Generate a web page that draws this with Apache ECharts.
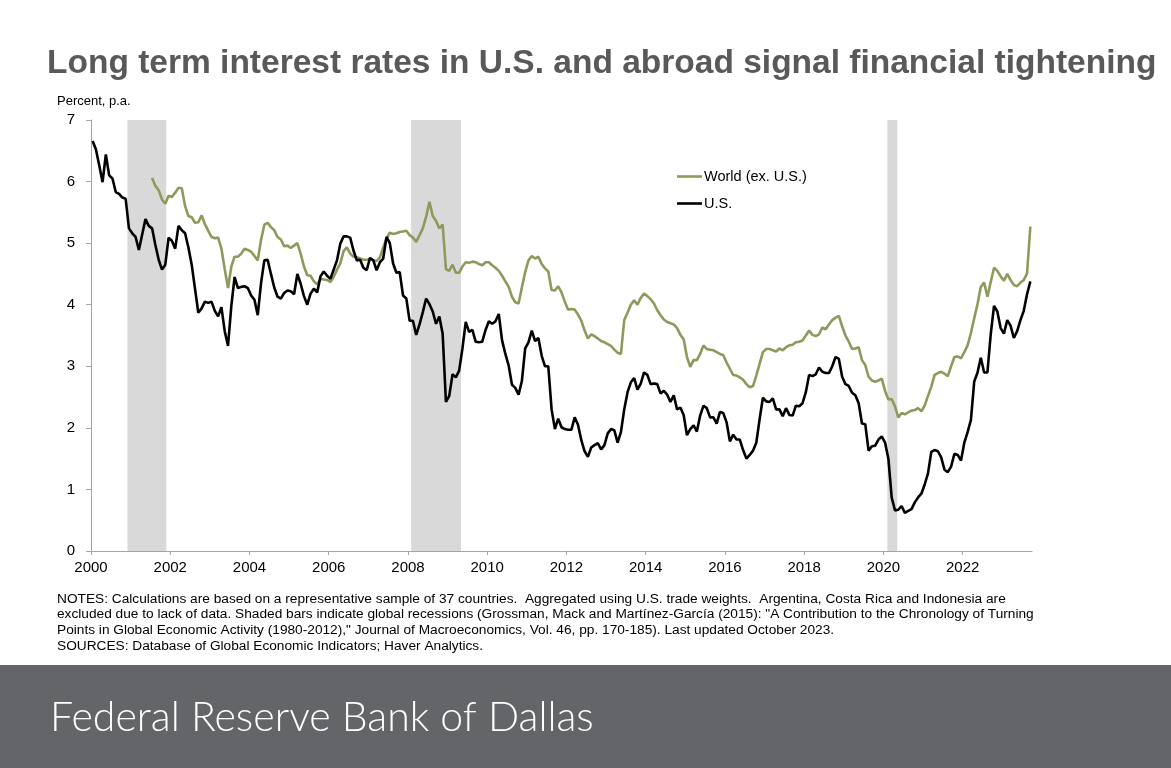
<!DOCTYPE html>
<html>
<head>
<meta charset="utf-8">
<script src="https://cdn.jsdelivr.net/npm/echarts@6/dist/echarts.min.js"></script>
<style>
  html, body { margin: 0; padding: 0; background: #fff; }
  #chart { width: 1171px; height: 768px; }
</style>
</head>
<body>
<div id="chart"></div>
<script>
// Monthly 10-year yields, U.S. from Jan 2000, World (ex. U.S.) from Jul 2001
const usStart = [2000, 0];
const usValues = [
  6.66,6.52,6.26,5.99,6.44,6.10,6.05,5.83,5.80,5.74,5.72,5.24,
  5.16,5.10,4.89,5.14,5.39,5.28,5.24,4.97,4.73,4.57,4.65,5.09,
  5.04,4.91,5.28,5.21,5.16,4.93,4.65,4.26,3.87,3.94,4.05,4.03,
  4.05,3.90,3.81,3.96,3.57,3.33,3.98,4.45,4.27,4.29,4.30,4.27,
  4.15,4.08,3.83,4.35,4.72,4.73,4.50,4.28,4.13,4.10,4.19,4.23,
  4.22,4.17,4.50,4.34,4.14,4.00,4.18,4.26,4.20,4.46,4.54,4.47,
  4.42,4.57,4.72,4.99,5.11,5.11,5.09,4.88,4.72,4.73,4.60,4.56,
  4.76,4.72,4.56,4.69,4.75,5.10,5.00,4.67,4.52,4.53,4.15,4.10,
  3.74,3.74,3.51,3.68,3.88,4.10,4.01,3.89,3.69,3.81,3.53,2.42,
  2.52,2.87,2.82,2.93,3.29,3.72,3.56,3.59,3.40,3.39,3.40,3.59,
  3.73,3.69,3.73,3.85,3.42,3.20,3.01,2.70,2.65,2.54,2.76,3.29,
  3.39,3.58,3.41,3.46,3.17,3.00,3.00,2.30,1.98,2.15,2.01,1.98,
  1.97,1.97,2.17,2.05,1.80,1.62,1.53,1.68,1.72,1.75,1.65,1.72,
  1.91,1.98,1.96,1.76,1.93,2.30,2.58,2.74,2.81,2.62,2.72,2.90,
  2.86,2.71,2.72,2.71,2.56,2.60,2.54,2.42,2.53,2.30,2.33,2.21,
  1.88,1.98,2.04,1.94,2.20,2.36,2.32,2.17,2.17,2.07,2.26,2.24,
  2.09,1.78,1.89,1.81,1.81,1.64,1.50,1.56,1.63,1.76,2.14,2.49,
  2.43,2.42,2.48,2.30,2.30,2.19,2.32,2.21,2.20,2.36,2.35,2.40,
  2.58,2.86,2.84,2.87,2.98,2.91,2.89,2.89,3.00,3.15,3.12,2.83,
  2.71,2.68,2.57,2.53,2.40,2.07,2.06,1.63,1.70,1.71,1.81,1.86,
  1.76,1.50,0.87,0.66,0.67,0.73,0.62,0.65,0.68,0.79,0.87,0.93,
  1.08,1.26,1.61,1.64,1.62,1.52,1.32,1.28,1.37,1.58,1.56,1.47,
  1.76,1.93,2.13,2.75,2.90,3.14,2.90,2.90,3.52,3.98,3.89,3.62,
  3.53,3.75,3.66,3.46,3.57,3.75,3.90,4.17,4.38
];
const worldStart = [2001, 6];
const worldValues = [
  6.06,5.93,5.86,5.71,5.64,5.77,
  5.75,5.82,5.90,5.89,5.60,5.44,5.42,5.33,5.34,5.45,5.31,5.20,
  5.10,5.08,5.09,4.91,4.58,4.27,4.62,4.78,4.78,4.83,4.91,4.89,
  4.86,4.79,4.72,5.05,5.30,5.33,5.26,5.21,5.10,5.06,4.95,4.96,
  4.92,4.96,5.00,4.83,4.62,4.48,4.47,4.38,4.33,4.42,4.41,4.40,
  4.37,4.45,4.57,4.67,4.87,4.93,4.83,4.78,4.77,4.75,4.73,4.73,
  4.74,4.72,4.71,4.77,4.93,5.07,5.17,5.15,5.16,5.18,5.19,5.20,
  5.13,5.09,5.02,5.13,5.24,5.43,5.67,5.44,5.36,5.24,5.30,4.58,
  4.55,4.65,4.52,4.52,4.62,4.69,4.68,4.70,4.69,4.66,4.64,4.69,
  4.69,4.64,4.60,4.55,4.47,4.38,4.29,4.13,4.04,4.02,4.28,4.53,
  4.72,4.79,4.75,4.78,4.66,4.59,4.54,4.24,4.23,4.30,4.20,4.05,
  3.92,3.93,3.92,3.84,3.74,3.58,3.45,3.52,3.49,3.45,3.41,3.39,
  3.36,3.33,3.27,3.22,3.20,3.75,3.87,4.00,4.07,4.00,4.11,4.18,
  4.14,4.09,4.02,3.91,3.83,3.76,3.72,3.70,3.68,3.62,3.51,3.44,
  3.15,2.99,3.10,3.10,3.20,3.34,3.28,3.27,3.26,3.23,3.20,3.18,
  3.06,2.96,2.86,2.85,2.82,2.78,2.71,2.66,2.68,2.85,3.04,3.23,
  3.28,3.28,3.26,3.24,3.29,3.26,3.31,3.34,3.35,3.39,3.40,3.42,
  3.50,3.58,3.51,3.49,3.52,3.63,3.60,3.68,3.75,3.79,3.82,3.65,
  3.50,3.40,3.28,3.29,3.31,3.10,3.02,2.83,2.77,2.75,2.77,2.80,
  2.60,2.46,2.47,2.35,2.17,2.24,2.22,2.25,2.28,2.29,2.32,2.27,
  2.36,2.52,2.67,2.86,2.89,2.91,2.88,2.84,3.00,3.15,3.16,3.13,
  3.23,3.34,3.54,3.78,4.01,4.29,4.36,4.13,4.37,4.60,4.55,4.46,
  4.39,4.50,4.40,4.32,4.30,4.36,4.40,4.51,5.27
];
// Global recessions (decimal years: start, end)
const recessions = [[2000.92, 2001.90], [2008.08, 2009.34], [2020.10, 2020.35]];
const xTicks = [2000,2002,2004,2006,2008,2010,2012,2014,2016,2018,2020,2022];
const seriesNames = ['World (ex. U.S.)', 'U.S.'];

function toPairs(start, vals) {
  return vals.map((v, i) => [start[0] + (start[1] + i + 0.5) / 12, v]);
}

const chart = echarts.init(document.getElementById('chart'), null, { renderer: 'canvas' });
const FONT = 'Liberation Sans, Arial, sans-serif';
const notes = [
  'NOTES: Calculations are based on a representative sample of 37 countries.  Aggregated using U.S. trade weights.  Argentina, Costa Rica and Indonesia are',
  'excluded due to lack of data. Shaded bars indicate global recessions (Grossman, Mack and Martínez-García (2015): "A Contribution to the Chronology of Turning',
  'Points in Global Economic Activity (1980-2012)," Journal of Macroeconomics, Vol. 46, pp. 170-185). Last updated October 2023.',
  'SOURCES: Database of Global Economic Indicators; Haver Analytics.'
];

chart.setOption({
  animation: false,
  backgroundColor: '#ffffff',
  textStyle: { fontFamily: FONT },
  title: {
    text: 'Long term interest rates in U.S. and abroad signal financial tightening',
    left: 42, top: 42,
    textStyle: { fontFamily: FONT, fontSize: 33.5, fontWeight: 'bold', color: '#595959' }
  },
  legend: {
    orient: 'vertical', left: 672, top: 164, itemGap: 12,
    itemWidth: 25, itemHeight: 2.6, icon: 'rect',
    textStyle: { fontFamily: FONT, fontSize: 14.5, color: '#000', padding: [0, 0, 0, -3] },
    data: seriesNames
  },
  grid: { left: 91, right: 139, top: 120, bottom: 217, containLabel: false },
  xAxis: {
    type: 'value', min: 2000, max: 2023.75, interval: 2,
    axisLine: { show: true, lineStyle: { color: '#a6a6a6', width: 1 } },
    axisTick: { show: true, customValues: xTicks, length: 4, lineStyle: { color: '#a6a6a6' } },
    axisLabel: { customValues: xTicks, fontFamily: FONT, fontSize: 15, color: '#000', margin: 9,
      formatter: v => String(v) },
    splitLine: { show: false }
  },
  yAxis: {
    type: 'value', min: 0, max: 7, interval: 1,
    name: 'Percent, p.a.', nameLocation: 'end', nameGap: 12,
    nameTextStyle: { fontFamily: FONT, fontSize: 13, color: '#000', align: 'left', padding: [0, 0, 0, -34] },
    axisLine: { show: true, lineStyle: { color: '#a6a6a6', width: 1 } },
    axisTick: { show: true, length: 5, lineStyle: { color: '#a6a6a6' } },
    axisLabel: { fontFamily: FONT, fontSize: 15, color: '#000', margin: 16 },
    splitLine: { show: false }
  },
  series: [
    {
      name: seriesNames[0], type: 'line', symbol: 'none',
      data: toPairs(worldStart, worldValues),
      lineStyle: { color: '#8c9a5c', width: 2.6 }, itemStyle: { color: '#8c9a5c' },
      z: 3,
      markArea: {
        silent: true,
        itemStyle: { color: '#d9d9d9' },
        data: recessions.map(r => [{ xAxis: r[0] }, { xAxis: r[1] }])
      }
    },
    {
      name: seriesNames[1], type: 'line', symbol: 'none',
      data: toPairs(usStart, usValues),
      lineStyle: { color: '#000', width: 2.6 }, itemStyle: { color: '#000' },
      z: 4
    }
  ],
  graphic: [
    {
      type: 'text', left: 57, top: 591, silent: true,
      style: { text: notes.join('\n'), fontFamily: FONT, fontSize: 13.7, lineHeight: 15.7, fill: '#000' }
    },
    {
      type: 'rect', left: 0, top: 665, silent: true,
      shape: { width: 1171, height: 103 }, style: { fill: '#646569' }
    },
    {
      type: 'text', left: 50, top: 697, silent: true,
      style: { text: 'Federal Reserve Bank of Dallas', fontFamily: 'Lato, Open Sans, sans-serif',
        fontWeight: 300, fontSize: 41, fill: '#ffffff' }
    }
  ]
});
</script>
</body>
</html>
